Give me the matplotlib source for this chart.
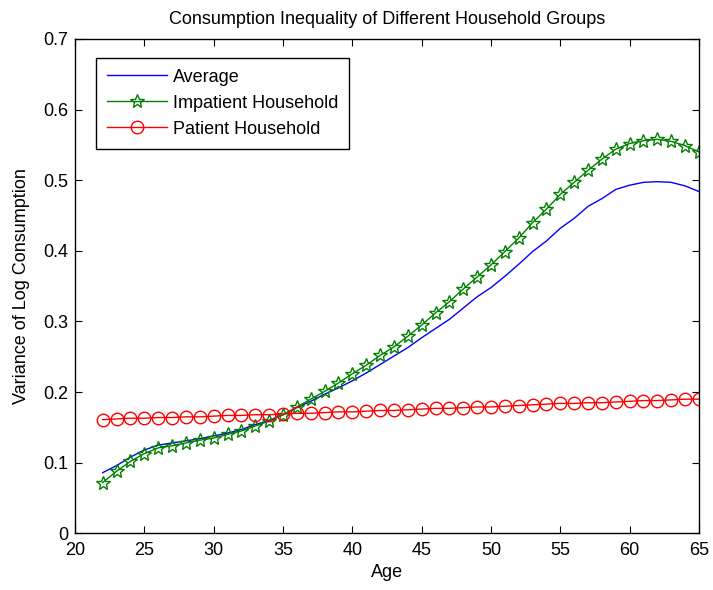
import matplotlib
matplotlib.use("Agg")
import matplotlib.pyplot as plt

ages = list(range(22, 66))

average = [0.086, 0.096, 0.108, 0.118, 0.125, 0.128, 0.131, 0.134, 0.138, 0.142,
           0.147, 0.154, 0.160, 0.168, 0.178, 0.187, 0.197, 0.206, 0.216, 0.227,
           0.239, 0.251, 0.263, 0.277, 0.290, 0.303, 0.319, 0.335, 0.348, 0.364,
           0.381, 0.399, 0.414, 0.432, 0.446, 0.463, 0.474, 0.487, 0.493, 0.497,
           0.498, 0.497, 0.492, 0.484]

impatient = [0.072, 0.088, 0.102, 0.113, 0.121, 0.124, 0.128, 0.132, 0.135, 0.140,
             0.145, 0.152, 0.159, 0.168, 0.179, 0.190, 0.201, 0.213, 0.226, 0.238,
             0.252, 0.264, 0.279, 0.295, 0.312, 0.328, 0.346, 0.363, 0.380, 0.399,
             0.418, 0.440, 0.459, 0.480, 0.497, 0.514, 0.530, 0.544, 0.552, 0.556,
             0.558, 0.555, 0.549, 0.540]

patient = [0.161, 0.162, 0.163, 0.163, 0.164, 0.164, 0.165, 0.165, 0.166, 0.167,
           0.167, 0.168, 0.168, 0.169, 0.170, 0.170, 0.171, 0.172, 0.172, 0.173,
           0.174, 0.174, 0.175, 0.176, 0.177, 0.177, 0.178, 0.179, 0.179, 0.180,
           0.181, 0.182, 0.183, 0.184, 0.184, 0.185, 0.185, 0.186, 0.187, 0.188,
           0.188, 0.189, 0.190, 0.190]

xticks = [20, 25, 30, 35, 40, 45, 50, 55, 60, 65]
yticks = [0, 0.1, 0.2, 0.3, 0.4, 0.5, 0.6, 0.7]
yticklabels = ["0", "0.1", "0.2", "0.3", "0.4", "0.5", "0.6", "0.7"]

plt.rcParams['font.family'] = ['Liberation Sans', 'DejaVu Sans']
plt.rcParams['font.size'] = 13

fig = plt.figure(figsize=(7.13, 5.90), dpi=100)
ax = fig.add_axes([0.1052, 0.0960, 0.9803 - 0.1052, 0.9339 - 0.0960])

ax.plot(ages, average, color=(0, 0, 1), lw=1.0, label="Average")
ax.plot(ages, impatient, color=(0, 0.5, 0), lw=1.0, marker='*', markersize=10,
        markerfacecolor='none', markeredgecolor=(0, 0.5, 0), markeredgewidth=1.0,
        label="Impatient Household")
ax.plot(ages, patient, color=(1, 0, 0), lw=1.0, marker='o', markersize=9,
        markerfacecolor='none', markeredgecolor=(1, 0, 0), markeredgewidth=1.0,
        label="Patient Household")

ax.set_xlim(20, 65)
ax.set_ylim(0, 0.7)
ax.set_xticks(xticks)
ax.set_yticks(yticks)
ax.set_yticklabels(yticklabels)
ax.tick_params(direction='in', top=True, right=True, length=5, width=0.8)
ax.tick_params(axis='x', pad=6)
ax.tick_params(axis='y', pad=5)
for s in ax.spines.values():
    s.set_linewidth(1.0)

ax.set_title("Consumption Inequality of Different Household Groups", fontsize=13, pad=11)
ax.set_xlabel("Age", labelpad=4)
ax.set_ylabel("Variance of Log Consumption", labelpad=9)

leg = ax.legend(loc='upper left', bbox_to_anchor=(0.034, 0.962), fancybox=False,
                edgecolor='black', framealpha=1, handlelength=3.3, borderpad=0.6,
                labelspacing=0.5, handletextpad=0.35, borderaxespad=0.0,
                numpoints=1)
leg.get_frame().set_linewidth(1.0)

fig.savefig("out.png", dpi=100)
